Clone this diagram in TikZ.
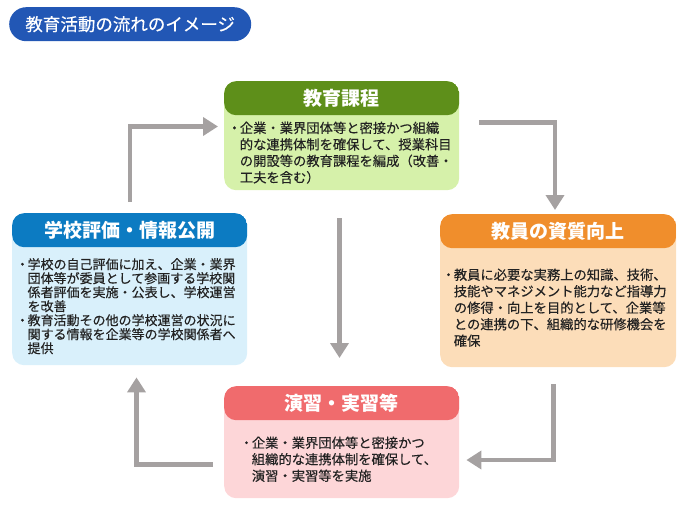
\documentclass[tikz,border=0pt]{standalone}
\usepackage{fontspec}
\setmainfont{Noto Sans CJK JP}
\newfontfamily\medfont{Noto Sans CJK JP}[UprightFeatures={FakeBold=0.35}]
\usetikzlibrary{arrows.meta}
\definecolor{titleblue}{HTML}{2257B5}
\definecolor{ghead}{HTML}{5E8F1A}
\definecolor{gbody}{HTML}{D6F1AA}
\definecolor{ohead}{HTML}{F08E2C}
\definecolor{obody}{HTML}{FCDDB9}
\definecolor{bhead}{HTML}{0C7BC2}
\definecolor{bbody}{HTML}{D9F0FB}
\definecolor{rhead}{HTML}{F06B6D}
\definecolor{rbody}{HTML}{FDD6D8}
\definecolor{arrowgray}{HTML}{A5A1A1}
\definecolor{txt}{HTML}{222222}
\newcommand\bul{\makebox[0.8em][c]{・}}
\newcommand\ind{\hspace*{0.8em}}
\begin{document}
\begin{tikzpicture}[x=1pt,y=-1pt,
  box/.style={rectangle, rounded corners=12pt, inner sep=0pt, anchor=north west},
  hdr/.style={path picture={\fill[#1] (path picture bounding box.north west) rectangle ([yshift=-34pt]path picture bounding box.north east);}},
  hdrtext/.style={text=white, font=\fontsize{19}{22}\selectfont\bfseries, inner sep=0pt},
  bodytext/.style={text=txt, align=left, inner sep=0pt, anchor=west, font=\medfont\fontsize{13.3}{16.5}\selectfont},
  flow/.style={draw=arrowgray, line width=4.5pt, -{Triangle[width=18pt,length=15pt]}}
]
\useasboundingbox (0,0) rectangle (682,506);

% title
\node[fill=titleblue, rounded corners=17pt, minimum width=242pt, minimum height=34pt,
  anchor=north west, inner sep=0pt, text=white, font=\medfont\fontsize{17.5}{20}\selectfont] (title) at (9,7) {教育活動の流れのイメージ};

% boxes
\node[box, fill=gbody, hdr=ghead, minimum width=235pt, minimum height=109pt] (top) at (224,81) {};
\node[box, fill=obody, hdr=ohead, minimum width=236pt, minimum height=153pt] (right) at (440,214) {};
\node[box, fill=bbody, hdr=bhead, minimum width=235pt, minimum height=152pt] (left) at (12,213) {};
\node[box, fill=rbody, hdr=rhead, minimum width=235pt, minimum height=112pt] (bottom) at (224,386) {};

% headers
\node[hdrtext] (toph) at ([yshift=-17pt]top.north) {教育課程};
\node[hdrtext] (righth) at ([yshift=-17pt]right.north) {教員の資質向上};
\node[hdrtext] (lefth) at ([yshift=-17pt]left.north) {学校評価・情報公開};
\node[hdrtext] (bottomh) at ([yshift=-17pt]bottom.north) {演習・実習等};

% bodies
\node[bodytext] (topb) at ([xshift=5pt,yshift=-17pt]top.west) {\bul 企業・業界団体等と密接かつ組織\\
\ind 的な連携体制を確保して、授業科目\\
\ind の開設等の教育課程を編成（改善・\\
\ind 工夫を含む）};
\node[bodytext] (rightb) at ([xshift=3pt,yshift=-17pt]right.west) {\bul 教員に必要な実務上の知識、技術、\\
\ind 技能やマネジメント能力など指導力\\
\ind の修得・向上を目的として、企業等\\
\ind との連携の下、組織的な研修機会を\\
\ind 確保};
\node[bodytext, font=\medfont\fontsize{13}{14}\selectfont] (leftb) at ([xshift=5pt,yshift=-17pt]left.west) {\bul 学校の自己評価に加え、企業・業界\\
\ind 団体等が委員として参画する学校関\\
\ind 係者評価を実施・公表し、学校運営\\
\ind を改善\\
\bul 教育活動その他の学校運営の状況に\\
\ind 関する情報を企業等の学校関係者へ\\
\ind 提供};
\node[bodytext] (bottomb) at ([xshift=17pt,yshift=-17pt]bottom.west) {\bul 企業・業界団体等と密接かつ\\
\ind 組織的な連携体制を確保して、\\
\ind 演習・実習等を実施};

% connectors
\coordinate (c1) at ([yshift=11pt]left.north west -| 130,0);
\coordinate (c2) at ([xshift=-6pt]top.west |- 0,126.5);
\draw[flow] (c1) |- (c2);

\coordinate (c3) at ([xshift=20pt]top.east |- 0,122.5);
\coordinate (c4) at ([yshift=4pt]right.north -| 555,0);
\draw[flow] (c3) -| (c4);

\coordinate (c5) at ([yshift=-28pt]top.south -| 339.5,0);
\coordinate (c6) at ([yshift=28pt]bottom.north -| 339.5,0);
\draw[flow] (c5) -- (c6);

\coordinate (c7) at ([yshift=-17pt]right.south -| 553.5,0);
\coordinate (c8) at ([xshift=7pt]bottom.east |- 0,460);
\draw[flow] (c7) |- (c8);

\coordinate (c9) at ([xshift=-11pt]bottom.west |- 0,464.5);
\coordinate (c10) at ([yshift=-12pt]left.south -| 136.5,0);
\draw[flow] (c9) -| (c10);
\end{tikzpicture}
\end{document}
